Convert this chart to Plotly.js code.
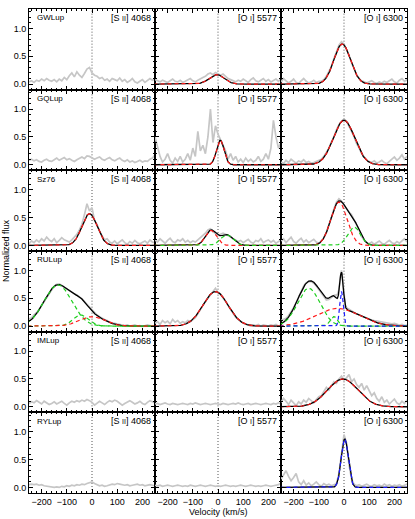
<!DOCTYPE html>
<html><head><meta charset="utf-8">
<script src="https://cdn.plot.ly/plotly-3.0.1.min.js"></script>
<style>html,body{margin:0;padding:0;background:#fff}#chart{width:415px;height:519px}</style>
</head><body><div id="chart"></div>
<script>
const stars = ['GWLup','GQLup','Sz76','RULup','IMLup','RYLup'];
const lineLabels = ['[S <span style="font-size:7px">II</span>] 4068','[O <span style="font-size:7px">I</span>] 5577','[O <span style="font-size:7px">I</span>] 6300'];
const xTickVals = [-200,-100,0,100,200];
const yTickVals = [0,0.5,1];

const vel = [-250,-240,-230,-220,-210,-200,-190,-180,-170,-160,-150,-140,-130,-120,-110,-100,-90,-80,-70,-60,-50,-40,-30,-20,-10,0,10,20,30,40,50,60,70,80,90,100,110,120,130,140,150,160,170,180,190,200,210,220,230,240,250];
const velRU6300 = [-250,-240,-230,-220,-210,-200,-190,-180,-170,-160,-150,-140,-130,-120,-110,-100,-90,-80,-70,-60,-50,-40,-35,-30,-25,-20,-15,-10,-5,0,5,10,20,30,40,50,60,70,80,90,100,110,120,130,140,150,160,170,180,190,200,210,220,230,240,250];

const GW_S2 = [0.04,0.06,0.03,0.07,0.05,0.09,0.06,0.1,0.07,0.05,0.08,0.04,0.09,0.06,0.12,0.08,0.15,0.2,0.13,0.22,0.16,0.12,0.19,0.27,0.3,0.2,0.16,0.14,0.1,0.12,0.07,0.09,0.05,0.1,0.08,0.06,0.11,0.05,0.08,0.03,0.06,0.1,0.04,0.02,0.05,0.08,0.03,0.06,0.1,0.07,0.09];
const GW_O5577 = [0.08,0.06,0.04,0.07,0.05,0.03,0.06,0.09,0.05,0.04,0.07,0.03,0.05,0.08,0.1,0.06,0.04,0.07,0.1,0.12,0.14,0.18,0.2,0.17,0.21,0.19,0.16,0.18,0.13,0.1,0.08,0.06,0.04,0.07,0.05,0.09,0.06,0.03,0.08,0.11,0.06,0.04,0.07,0.1,0.05,0.08,0.04,0.07,0.09,0.05,0.1];
const GW_O6300 = [0.04,0.1,0.06,0.02,0.05,0.09,0.03,0.01,0.06,0.1,0.05,0.02,0.04,0.07,0.03,0.05,0.05,0.08,0.14,0.22,0.32,0.46,0.58,0.7,0.76,0.72,0.62,0.52,0.38,0.27,0.17,0.1,0.06,0.04,0.02,0.04,0.06,0.03,0.01,0.04,0.02,0.05,0.03,0.06,0.09,0.04,0.02,0.07,0.1,0.05,0.08];

const GQ_S2 = [0.08,0.1,0.07,0.09,0.06,0.05,0.08,0.1,0.07,0.06,0.09,0.12,0.08,0.1,0.13,0.09,0.11,0.08,0.06,0.09,0.12,0.14,0.11,0.16,0.15,0.13,0.1,0.12,0.14,0.1,0.08,0.11,0.13,0.09,0.07,0.1,0.12,0.08,0.06,0.09,0.05,0.07,0.04,0.06,0.08,0.05,0.07,0.06,0.1,0.12,0.18];
const GQ_O5577 = [0.5,0.3,0.15,0.05,0.1,0.2,0.08,0.03,0.12,0.06,0.15,0.05,0.1,0.2,0.08,0.3,0.15,0.6,0.25,0.35,0.2,0.5,1.0,0.4,0.7,0.55,0.45,0.35,0.25,0.1,0.2,0.08,0.15,0.05,0.1,0.04,0.12,0.06,0.1,0.05,0.08,0.15,0.06,0.1,0.2,0.1,0.3,0.8,0.5,0.3,0.4];
const GQ_O6300 = [0.05,0.02,0.08,0.04,0.1,0.06,0.03,0.07,0.05,0.09,0.04,0.06,0.03,0.04,0.06,0.08,0.1,0.15,0.22,0.3,0.41,0.5,0.63,0.72,0.78,0.82,0.78,0.7,0.6,0.5,0.38,0.3,0.2,0.14,0.08,0.06,0.04,0.07,0.03,0.05,0.08,0.04,0.02,0.06,0.1,0.14,0.08,0.12,0.18,0.1,0.15];

const Sz_S2 = [0.03,0.08,0.05,0.1,0.06,0.12,0.08,0.15,0.1,0.07,0.12,0.05,0.09,0.14,0.1,0.08,0.06,0.1,0.15,0.2,0.28,0.38,0.55,0.75,0.62,0.68,0.45,0.38,0.25,0.18,0.1,0.12,0.06,0.04,0.08,0.03,0.06,0.1,0.05,0.02,0.07,0.04,0.09,0.05,0.03,0.06,0.08,0.04,0.1,0.06,0.05];
const Sz_O5577 = [0.1,0.06,0.12,0.08,0.04,0.09,0.13,0.07,0.05,0.1,0.08,0.12,0.06,0.09,0.05,0.08,0.06,0.1,0.14,0.17,0.22,0.28,0.3,0.25,0.22,0.18,0.2,0.22,0.2,0.18,0.15,0.12,0.1,0.07,0.09,0.05,0.08,0.11,0.06,0.04,0.09,0.07,0.12,0.05,0.08,0.1,0.06,0.09,0.04,0.07,0.1];
const Sz_O6300 = [0.08,0.12,0.05,0.1,0.15,0.07,0.04,0.09,0.13,0.06,0.1,0.05,0.08,0.11,0.06,0.04,0.08,0.14,0.24,0.36,0.5,0.66,0.78,0.84,0.8,0.72,0.65,0.6,0.55,0.47,0.37,0.28,0.16,0.1,0.05,0.03,0.06,0.02,0.05,0.08,0.04,0.02,0.06,0.09,0.05,0.03,0.07,0.04,0.08,0.12,0.06];

const RU_S2 = [0.13,0.15,0.2,0.24,0.3,0.37,0.45,0.52,0.6,0.66,0.72,0.75,0.76,0.73,0.7,0.67,0.63,0.6,0.58,0.56,0.53,0.49,0.44,0.39,0.33,0.28,0.23,0.2,0.17,0.14,0.12,0.1,0.07,0.06,0.05,0.04,0.03,0.02,0.01,0.02,0.0,0.01,0.02,0.0,0.01,-0.01,0.0,0.02,0.01,0.0,0.01];
const RU_O5577 = [0.05,0.08,0.03,0.1,0.06,0.09,0.04,0.12,0.07,0.1,0.05,0.08,0.06,0.1,0.08,0.12,0.15,0.22,0.3,0.36,0.44,0.5,0.56,0.62,0.68,0.6,0.58,0.5,0.45,0.37,0.3,0.22,0.16,0.12,0.08,0.05,0.04,0.02,0.0,0.02,0.01,0.03,0.0,0.02,0.01,0.0,0.02,0.01,0.03,0.0,0.02];
const RU_O6300 = [0.1,0.12,0.14,0.19,0.25,0.33,0.42,0.53,0.62,0.72,0.78,0.8,0.8,0.77,0.72,0.66,0.58,0.52,0.47,0.48,0.52,0.55,0.56,0.55,0.58,0.66,0.86,1.0,0.82,0.5,0.37,0.33,0.3,0.27,0.24,0.22,0.2,0.18,0.16,0.14,0.13,0.11,0.1,0.09,0.08,0.08,0.07,0.06,0.05,0.04,0.05,0.03,0.02,0.03,0.01,0.02];

const IM_S2 = [0.06,0.09,0.07,0.11,0.08,0.05,0.1,0.07,0.04,0.06,0.09,0.05,0.08,0.1,0.06,0.03,0.07,0.1,0.08,0.11,0.09,0.12,0.1,0.13,0.11,0.08,0.03,0.06,0.1,0.07,0.04,0.08,0.11,0.09,0.12,0.1,0.07,0.03,0.06,0.09,0.11,0.08,0.05,0.07,0.1,0.06,0.04,0.08,0.11,0.09,0.07];
const IM_O5577 = [0.05,0.06,0.04,0.05,0.07,0.05,0.04,0.06,0.05,0.04,0.05,0.06,0.05,0.04,0.06,0.05,0.07,0.05,0.04,0.05,0.06,0.05,0.04,0.05,0.06,0.05,0.04,0.06,0.05,0.04,0.05,0.06,0.05,0.07,0.05,0.04,0.05,0.06,0.04,0.05,0.06,0.05,0.04,0.05,0.06,0.05,0.04,0.06,0.05,0.07,0.05];
const IM_O6300 = [0.08,0.15,0.1,0.04,0.12,0.06,0.02,0.09,0.05,0.12,0.08,0.15,0.1,0.07,0.13,0.18,0.2,0.28,0.35,0.3,0.38,0.45,0.42,0.5,0.55,0.48,0.52,0.58,0.45,0.5,0.4,0.35,0.42,0.3,0.38,0.3,0.2,0.25,0.15,0.1,0.18,0.08,0.12,0.05,0.1,0.14,0.07,0.04,0.1,0.06,0.12];

const RY_S2 = [0.05,0.06,0.05,0.06,0.04,0.05,0.03,0.02,0.01,0.0,0.0,0.01,0.0,0.02,0.01,0.03,0.02,0.04,0.03,0.05,0.04,0.06,0.05,0.07,0.08,0.1,0.07,0.05,0.03,0.04,0.02,0.03,0.05,0.06,0.05,0.07,0.06,0.05,0.04,0.05,0.03,0.04,0.05,0.06,0.04,0.05,0.03,0.04,0.05,0.04,0.03];
const RY_O5577 = [0.04,0.03,0.04,0.02,0.03,0.04,0.03,0.02,0.03,0.04,0.03,0.02,0.03,0.02,0.04,0.03,0.02,0.03,0.04,0.03,0.02,0.03,0.04,0.03,0.02,0.03,0.02,0.03,0.04,0.03,0.02,0.03,0.02,0.03,0.04,0.03,0.02,0.03,0.04,0.03,0.02,0.03,0.02,0.03,0.04,0.03,0.02,0.03,0.04,0.05,0.08];
const RY_O6300 = [0.15,0.22,0.3,0.2,0.12,0.18,0.25,0.1,0.05,0.12,0.04,0.08,0.03,0.06,0.1,0.05,0.02,0.07,0.04,0.06,0.03,0.05,0.07,0.25,0.6,0.95,0.8,0.4,0.15,0.06,0.03,0.05,0.02,0.04,0.06,0.03,0.02,0.05,0.03,0.04,0.02,0.06,0.03,0.05,0.02,0.04,0.03,0.05,0.02,0.04,0.06];

// Gaussian fit components: star, line index, component kind, amplitude, centre (km/s), sigma (km/s)
const fitStar = ['GWLup','GWLup','GQLup','GQLup','Sz76','Sz76','Sz76','Sz76','Sz76','RULup','RULup','RULup','RULup','RULup','RULup','RULup','RULup','IMLup','RYLup'];
const fitLine = [1,2,1,2,0,1,1,2,2,0,0,0,1,2,2,2,2,2,2];
const fitKind = ['red','red','red','red','red','red','green','red','green','green','green','red','red','green','green','red','blue','red','blue'];
const fitAmp = [0.17,0.72,0.44,0.80,0.57,0.27,0.19,0.78,0.33,0.74,0.20,0.17,0.62,0.68,0.17,0.32,0.62,0.50,0.87];
const fitCen = [-5,-7,9,0,-10,-28,35,-20,40,-135,-45,0,-10,-140,-40,-25,-10,-5,3];
const fitSig = [30,33,15,42,30,22,25,32,25,55,30,50,50,45,15,85,7,60,14];

const spectra = [
  [GW_S2, GW_O5577, GW_O6300],
  [GQ_S2, GQ_O5577, GQ_O6300],
  [Sz_S2, Sz_O5577, Sz_O6300],
  [RU_S2, RU_O5577, RU_O6300],
  [IM_S2, IM_O5577, IM_O6300],
  [RY_S2, RY_O5577, RY_O6300]
];
const spectraVel = spectra.map((row, r) => row.map((s, c) => (r === 3 && c === 2) ? velRU6300 : vel));

const kindColor = {red:'#ff1a1a', green:'#1fcf1f', blue:'#1a1aff'};
const FONT = 'Liberation Sans, Arial, sans-serif';

const modelGrid = [];
for (let v = -256; v <= 256; v += 1) modelGrid.push(v);

const traces = [];
const layout = {
  width: 415, height: 519,
  margin: {l: 29, r: 8, t: 9, b: 26},
  paper_bgcolor: '#fff', plot_bgcolor: '#fff',
  showlegend: false,
  font: {family: FONT, size: 9, color: '#000'},
  shapes: [], annotations: []
};

const nR = stars.length, nC = 3;
for (let r = 0; r < nR; r++) {
  for (let c = 0; c < nC; c++) {
    const p = r * nC + c;
    const s = p === 0 ? '' : String(p + 1);
    const xa = 'x' + s, ya = 'y' + s;
    traces.push({x: spectraVel[r][c], y: spectra[r][c], xaxis: xa, yaxis: ya, mode: 'lines',
      line: {color: '#c6c6c6', width: 1.7}, hoverinfo: 'skip'});
    const idx = [];
    for (let k = 0; k < fitStar.length; k++) if (fitStar[k] === stars[r] && fitLine[k] === c) idx.push(k);
    if (idx.length) {
      const comp = idx.map(k => modelGrid.map(v => fitAmp[k] * Math.exp(-0.5 * Math.pow((v - fitCen[k]) / fitSig[k], 2))));
      const total = modelGrid.map((v, i) => comp.reduce((a, cc) => a + cc[i], 0));
      traces.push({x: modelGrid, y: total, xaxis: xa, yaxis: ya, mode: 'lines',
        line: {color: '#000', width: 1.3}, hoverinfo: 'skip'});
      idx.forEach((k, j) => {
        traces.push({x: modelGrid, y: comp[j], xaxis: xa, yaxis: ya, mode: 'lines',
          line: {color: kindColor[fitKind[k]], width: 1.2, dash: '4px,3px'}, hoverinfo: 'skip'});
      });
    }
    layout['xaxis' + s] = {
      domain: [c / nC, (c + 1) / nC], anchor: ya, range: [-250, 250],
      showline: true, linecolor: '#000', linewidth: 1, mirror: 'allticks',
      ticks: 'inside', ticklen: 4, tickwidth: 1, tickcolor: '#000',
      tickvals: xTickVals, showticklabels: r === nR - 1,
      tickfont: {family: FONT, size: 9, color: '#000'},
      minor: {ticks: 'inside', ticklen: 2, dtick: 20, tick0: 0, tickcolor: '#000', showgrid: false},
      showgrid: false, zeroline: false, fixedrange: true
    };
    layout['yaxis' + s] = {
      domain: [1 - (r + 1) / nR, 1 - r / nR], anchor: xa, range: [-0.1, 1.35],
      showline: true, linecolor: '#000', linewidth: 1, mirror: 'allticks',
      ticks: 'inside', ticklen: 4, tickwidth: 1, tickcolor: '#000',
      tickvals: yTickVals, ticktext: ['0.0', '0.5', '1.0'], showticklabels: c === 0,
      tickfont: {family: FONT, size: 9, color: '#000'},
      minor: {ticks: 'inside', ticklen: 2, dtick: 0.1, tick0: 0, tickcolor: '#000', showgrid: false},
      showgrid: false, zeroline: false, fixedrange: true
    };
    layout.shapes.push({type: 'line', xref: xa, yref: ya + ' domain', x0: 0, x1: 0, y0: 0, y1: 1,
      line: {color: '#555', width: 1, dash: '1px,2px'}, layer: 'below'});
    if (c === 0) {
      layout.annotations.push({xref: xa, yref: ya, x: -228, y: 1.19, xanchor: 'left', yanchor: 'middle',
        text: stars[r], showarrow: false, font: {family: FONT, size: 8, color: '#000'}});
    }
    layout.annotations.push({xref: xa, yref: ya, x: 242, y: 1.19, xanchor: 'right', yanchor: 'middle',
      text: lineLabels[c], showarrow: false, font: {family: FONT, size: 9, color: '#000'}});
  }
}
layout.annotations.push({xref: 'paper', yref: 'paper', x: -23 / 378, y: 0.5, xanchor: 'center', yanchor: 'middle',
  text: 'Normalized flux', textangle: -90, showarrow: false, font: {family: FONT, size: 9, color: '#000'}});
layout.annotations.push({xref: 'paper', yref: 'paper', x: 0.5, y: -18.5 / 484, xanchor: 'center', yanchor: 'middle',
  text: 'Velocity (km/s)', showarrow: false, font: {family: FONT, size: 9, color: '#000'}});

Plotly.newPlot('chart', traces, layout, {displayModeBar: false, staticPlot: true});
</script></body></html>
